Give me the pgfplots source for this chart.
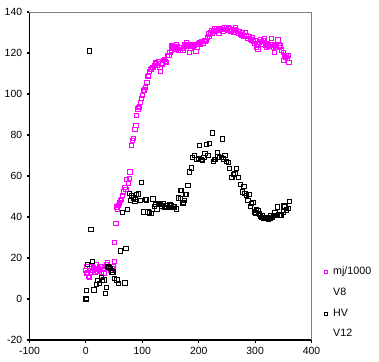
\documentclass[border=0pt]{standalone}
\usepackage{fontspec}
\setmainfont{Liberation Sans}
\usepackage{pgfplots}
\pgfplotsset{compat=1.18}
\definecolor{mag}{RGB}{255,0,255}
\begin{document}
\begin{tikzpicture}
\begin{axis}[
  name=ax,
  scale only axis,
  width=211.5pt, height=246pt,
  xmin=-100, xmax=400, ymin=-20, ymax=140,
  xtick={-100,0,100,200,300,400},
  ytick={-20,0,20,40,60,80,100,120,140},
  axis x line*=bottom, axis y line*=left,
  axis line style={line width=0.9pt, black, -},
  tick align=outside, major tick length=2pt,
  tick style={line width=0.9pt, black},
  /pgf/number format/assume math mode=true,
  tick label style={font=\fontsize{7.8}{9}\selectfont},
  clip=false,
  legend style={draw=none, fill=none, at={(0.995,0.24)}, anchor=north west,
    font=\fontsize{8}{9.6}\selectfont, row sep=4.5pt,
    /tikz/every odd column/.append style={column sep=2.5pt}},
  legend cell align=left,
  legend image post style={mark size=1.1pt},
]
\draw[gray, line width=0.6pt] (rel axis cs:0,1) -- (rel axis cs:1,1) -- (rel axis cs:1,0);
\addplot[only marks, mark=square, mark size=1.6pt, mag, mark options={line width=0.6pt}] coordinates {
(0,14)(1,12.5)(2,16)(3,13)(5,11)(6,10.5)(7,15)(8,14)(9,13)(10,16)(12,14)(13,15.5)(15,15)(16,13)(18,16.6)(19,14.5)(20,13.5)(22,15)(24,14)(25,16)(27,15.8)(28,13)(30,14.5)(32,12.8)(33,15)(35,16)(36,16.6)(38,17.8)(39,16)(40,15)(42,15.8)(44,14)(46,15)(48,16.1)(50,18.2)
(51,27.6)(53,36.8)(54,44.6)(55,44.9)(56,44)(57,45.7)(59,46.9)(61.5,48.2)(63,48.5)(65,50.6)(66,52.2)(69,54.6)(71,53.4)(72,58.2)(75,56.3)(76.6,58.7)(78,62)
(81,75)(82.6,77.4)(84,78.2)(87,82.6)(88.5,84.7)(90,89.5)(92,92.8)(94,93.6)(95,94)(97,95.9)(99,98)(100,99.3)(102,101.7)(104,102)(106,103.3)(108,105.6)(110,108.5)(111,109)(113,111)(115,112)(116,112.3)(118,113)(119,113)(121,114)(123,115.5)(125,115)(127,114)(129,116)(131,113)(131.5,111)(133,115)(135,114.5)(137,116.3)(139,117)(141,116)(143,115.5)(145,118.7)(147,119)(149,120.3)(151,121.5)(152,123.5)(154,123)(156,122.5)(158,122)(160,124.1)(162,123)(164,121.5)(166,122.8)(168,121.5)(170,122.5)(172,121.5)(174,124)(176,123.5)(178,125.2)(180,123.5)(182,124)(183,120.3)(185,122.5)(187,123.5)(189,124)(191,123.5)(193,124)(195,120.8)(197,123)(199,124.4)(201,125)(203,124.5)(205,125.5)(208,124.7)(210,126)(212,125.5)(214,126.3)(216,127.5)(218,129.3)(219,128)(221,130)(222,131)(224,129.5)(226,130.5)(228,131.8)(230,130.5)(232,132)(234,131)(236,129.5)(237,131.3)(239,132)(241,131.5)(243,130.6)(245,132.5)(247,131.5)(249,132.2)(251,131)(253,132.5)(255,131.8)(257,130.5)(259,131)(261,130)(263,131.5)(265,132.4)(267,131)(270,129.6)(272,130.5)(274,129)(276,128.5)(278,130)(280,128)(283,130)(285,128.5)(287,127.3)(289,128)(291,126.5)(293,126.4)(295,127.5)(297,125.5)(299,124.7)(300,126)(302,123)(304,124.5)(305,121.8)(307,125)(309,126.4)(311,125.5)(313,124.5)(315,126)(317,127.3)(319,124)(320,123)(322,124.5)(324,123.5)(326,124)(328.6,127.3)(330,124)(332,123)(334.6,120.3)(336,123.5)(338,124)(340.5,126.4)(342,124)(343.5,122.8)(345,123.5)(347,121.5)(349.5,120.3)(350.6,116.3)(352,119)(354,118)(355.4,118.6)(357,117.5)(358,119)(360,115.5)
};
\addlegendentry{mj/1000}
\addlegendimage{empty legend}
\addlegendentry{V8}
\addplot[only marks, mark=square, mark size=1.6pt, black, mark options={line width=0.6pt}] coordinates {
(0,0)(0,0.5)(0.5,0)(1,4.2)(2.4,16.9)(6,121)(8.8,33.9)(11,18.5)(14,4.5)(18,7)(21,9)(24,7.6)(27,10.5)(29,9)(32,9.3)(34,2.7)(36,5.7)(39,16)(41,15.5)(43,15)(45,14)(46,13)(48,13.3)(51,10)(55,9.4)(58,7.6)(61,23.5)(65,42.2)(69,7.9)(71,24.7)(74,43.6)(76.7,51.7)(79,48)(81,50.6)(84,49.3)(87,47.7)(88,48.5)(90,51)(92.6,51.3)(97,48)(98.5,56.8)(102.6,42.5)(105,48.5)(107,48.4)(110,42.5)(112,42)(116,41.7)(119,48.8)(122,45.1)(124,46)(126,44)(128,46.5)(131,46)(134,45.5)(137,46.4)(140,44.7)(143,45.5)(146,44.7)(148,46)(150,46)(152,45.5)(155,45)(157,45)(160,44)(163.5,49.3)(167,49)(168,52.9)(169,53)(172,46.7)(173,47)(175,48)(177,51)(178,51)(181,55.4)(184,62)(187,64)(189,69.2)(193,70)(196,68)(199,68.5)(201.6,75)(204.8,68)(207,67.6)(209,69.2)(211,70.9)(213,75.5)(216.5,70)(219,76)(224,81)(226,67.3)(228,68)(230,68)(233,71.6)(234,69.3)(237,69.2)(240,69)(242,78.1)(244,68.4)(246.5,70)(249,67.3)(252,66.8)(255,63.6)(258,59.2)(259,59.5)(262,60.8)(264,61.2)(266.7,63.6)(270,59.5)(271,59.2)(274,56)(277,52.2)(280,55)(282,51.5)(284,50.6)(287,48.2)(289,51)(291.5,45.3)(293,46.5)(296,47.3)(299,42.5)(300,42)(302,43.5)(305,43.3)(307,41.5)(309,40.5)(311,40)(313,40.5)(315,39.5)(317,39.3)(319,40)(321,39.5)(323,40)(324,39)(326,39.3)(328,40.5)(330,40)(332,40.9)(335,42)(338,40.9)(340,44.9)(342,41)(344,40.9)(347,41)(350,42.5)(351,45.5)(353,44.9)(355,43.5)(358.4,44.1)(361,47.8)
};
\addlegendentry{HV}
\addlegendimage{empty legend}
\addlegendentry{V12}
\end{axis}
\pgfresetboundingbox
\path[use as bounding box] ([shift={(-22.1pt,-15.75pt)}]ax.south west) rectangle ([shift={(50.6pt,9pt)}]ax.north east);
\end{tikzpicture}
\end{document}
